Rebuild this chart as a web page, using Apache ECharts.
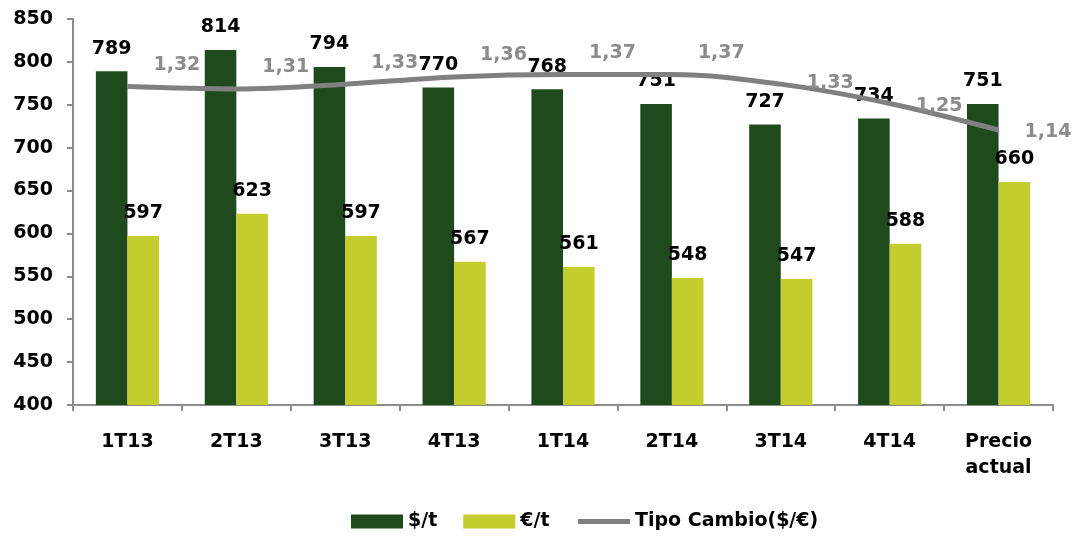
<!DOCTYPE html>
<html lang="es">

<head>
  <meta charset="UTF-8">
  <title>Precio</title>
  <script src="https://cdn.jsdelivr.net/npm/echarts@6/dist/echarts.min.js"></script>
  <style>
    * {
      padding: 0;
      margin: 0;
    }

    #main {
      width: 1072px;
      height: 538px;
    }
  </style>
</head>

<body>
  <div id="main"></div>
  <script>
    var categories = ['1T13', '2T13', '3T13', '4T13', '1T14', '2T14', '3T14', '4T14', 'Precio\nactual'];
    var usdPerTon = [789, 814, 794, 770, 768, 751, 727, 734, 751];
    var eurPerTon = [597, 623, 597, 567, 561, 548, 547, 588, 660];
    var tipoCambio = [1.32, 1.31, 1.33, 1.36, 1.37, 1.37, 1.33, 1.25, 1.14];

    var chartDom = document.getElementById('main');
    var myChart = echarts.init(chartDom);
    var font = '"DejaVu Sans", sans-serif';
    var fs = 19;
    var axisGrey = '#8c8c8c';

    // las tres últimas etiquetas del tipo de cambio van más bajas
    var lineData = tipoCambio.map(function (v, i) {
      if (i < 6) return v;
      return { value: v, label: { position: [26, i === 6 ? -11 : -7] } };
    });

    var barLabel = {
      show: true,
      position: 'top',
      distance: 13,
      color: '#000',
      fontFamily: font,
      fontWeight: 'bold',
      fontSize: fs
    };

    var option = {
      animation: false,
      textStyle: { fontFamily: font },
      grid: { left: 73, right: 19, top: 19, bottom: 133 },
      legend: {
        bottom: 2,
        left: 346,
        itemWidth: 52,
        itemHeight: 14,
        itemGap: 26,
        textStyle: { fontFamily: font, fontWeight: 'bold', fontSize: fs, color: '#000' },
        data: [
          { name: '$/t', icon: 'rect' },
          { name: '€/t', icon: 'rect' },
          {
            name: 'Tipo Cambio($/€)',
            itemStyle: { opacity: 0 },
            lineStyle: { width: 5, color: '#808080' }
          }
        ]
      },
      xAxis: {
        type: 'category',
        data: categories,
        axisLine: { lineStyle: { color: axisGrey, width: 2 } },
        axisTick: { show: true, length: 6, lineStyle: { color: axisGrey, width: 2 } },
        axisLabel: {
          margin: 24,
          color: '#000',
          fontFamily: font,
          fontWeight: 'bold',
          fontSize: fs,
          lineHeight: 26
        }
      },
      yAxis: [
        {
          type: 'value',
          min: 400,
          max: 850,
          interval: 50,
          splitLine: { show: false },
          axisLine: { show: true, lineStyle: { color: axisGrey, width: 2 } },
          axisTick: { show: true, length: 6, lineStyle: { color: axisGrey, width: 2 } },
          axisLabel: {
            margin: 20,
            color: '#000',
            fontFamily: font,
            fontWeight: 'bold',
            fontSize: fs
          }
        },
        {
          type: 'value',
          min: 0,
          max: 1.6,
          show: false,
          splitLine: { show: false }
        }
      ],
      series: [
        {
          name: '$/t',
          type: 'bar',
          data: usdPerTon,
          barWidth: '29%',
          barGap: '0%',
          itemStyle: { color: '#1f4a1d' },
          label: barLabel
        },
        {
          name: '€/t',
          type: 'bar',
          data: eurPerTon,
          barWidth: '29%',
          barGap: '0%',
          itemStyle: { color: '#c3ce2e' },
          label: barLabel
        },
        {
          name: 'Tipo Cambio($/€)',
          type: 'line',
          yAxisIndex: 1,
          data: lineData,
          smooth: 0.35,
          symbol: 'circle',
          symbolSize: 0,
          showSymbol: true,
          lineStyle: { color: '#808080', width: 5 },
          itemStyle: { color: '#808080' },
          label: {
            show: true,
            position: [26, -31],
            color: '#8c8c8c',
            fontFamily: font,
            fontWeight: 'bold',
            fontSize: fs,
            formatter: function (p) {
              return p.value.toFixed(2).replace('.', ',');
            }
          },
          labelLayout: { hideOverlap: false },
          z: 3
        }
      ]
    };

    option && myChart.setOption(option);
  </script>
</body>

</html>
